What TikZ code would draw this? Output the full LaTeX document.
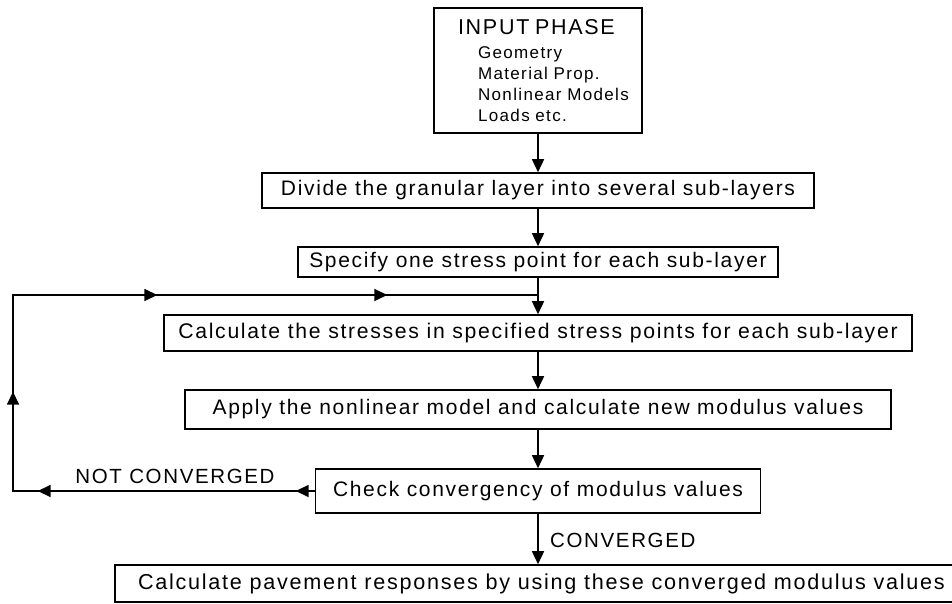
\documentclass[tikz,border=0pt]{standalone}
\usepackage{fontspec}
\setmainfont{Liberation Sans}
\newfontfamily\diafont[LetterSpace=8]{Liberation Sans}
\usetikzlibrary{arrows.meta,decorations.markings}

\begin{document}
\begin{tikzpicture}[x=1pt,y=-1pt,mybox/.style={rectangle, draw, line width=1.6pt, inner sep=0pt, font=\diafont\fontsize{21}{24}\selectfont},myarr/.style={line width=1.6pt,-{Triangle[length=13pt,width=12pt]}},myline/.style={line width=1.6pt},mylbl/.style={inner sep=0pt, font=\diafont\fontsize{20.5}{24}\selectfont},loopmarks/.style={decoration={markings,
    mark=at position 19pt with {\arrow{Triangle[length=13pt,width=12pt]}},
    mark=at position 277pt with {\arrow{Triangle[length=13pt,width=12pt]}},
    mark=at position 401pt with {\arrow{Triangle[length=13pt,width=12pt]}},
    mark=at position 642pt with {\arrow{Triangle[length=13pt,width=12pt]}},
    mark=at position 872pt with {\arrow{Triangle[length=13pt,width=12pt]}}},postaction={decorate}}]
  \useasboundingbox (0,0) rectangle (952,603);

  \node[mybox, minimum width=208pt, minimum height=125pt, text width=184pt, inner xsep=12pt, align=left, font=\diafont\fontsize{17}{21}\selectfont] (inp) at (538,70.5)
    {\hspace*{12pt}{\fontsize{21.5}{24}\selectfont INPUT PHASE}\\[3pt]
     \hspace*{32pt}Geometry\\
     \hspace*{32pt}Material Prop.\\
     \hspace*{32pt}Nonlinear Models\\
     \hspace*{32pt}Loads etc.};
  \node[mybox, minimum width=552pt, minimum height=35pt] (div) at (538,190.5) {Divide the granular layer into several sub-layers};
  \node[mybox, minimum width=480pt, minimum height=30pt] (spec) at (538,262) {Specify one stress point for each sub-layer};
  \node[mybox, minimum width=748pt, minimum height=36pt, font=\diafont\fontsize{21.2}{24}\selectfont] (calc) at (538,333) {Calculate the stresses in specified stress points for each sub-layer};
  \node[mybox, minimum width=706pt, minimum height=39pt] (appl) at (538,409.5) {Apply the nonlinear model and calculate new modulus values};
  \node[mybox, minimum width=445pt, minimum height=44pt] (chk) at (538,491) {Check convergency of modulus values};
  \node[mybox, minimum width=853pt, minimum height=37pt, font=\diafont\fontsize{21.6}{24}\selectfont] (resp) at (541.5,583.5) {Calculate pavement responses by using these converged modulus values};

  % corners of the loop
  \coordinate (lb) at (13,491);
  \coordinate (lt) at (13,295);
  \coordinate (jn) at (538,295);

  \node[mylbl] (nconv) at (175,476) {NOT CONVERGED};
  \node[mylbl, anchor=west] (conv) at (550,540) {CONVERGED};

    \draw[myarr] (inp) -- (div);
    \draw[myarr] (div) -- (spec);
    \draw[myarr] (spec) -- (calc);
    \draw[myarr] (calc) -- (appl);
    \draw[myarr] (appl) -- (chk);
    \draw[myarr] (chk.south) -- (chk.south |- resp.north);
    \draw[myline, loopmarks] (chk.west) -- (lb) -- (lt) -- (jn);

\end{tikzpicture}
\end{document}
